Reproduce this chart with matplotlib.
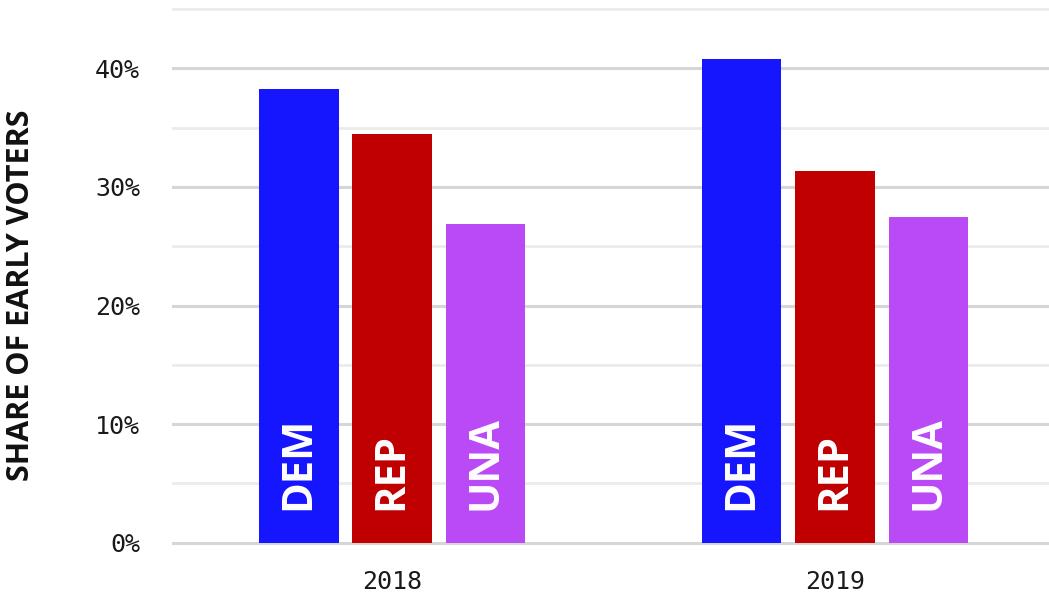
import matplotlib
matplotlib.use("Agg")
import matplotlib.pyplot as plt
import numpy as np

years = ["2018", "2019"]
parties = ["DEM", "REP", "UNA"]
dem = [38.25, 40.8]
rep = [34.5, 31.3]
una = [26.9, 27.5]
colors = ["#1515fe", "#c00000", "#b94af6"]
yticks = [0, 10, 20, 30, 40]
ytick_labels = ["0%", "10%", "20%", "30%", "40%"]

fig = plt.figure(figsize=(10.49, 5.99), dpi=100)
ylo, yhi = -0.3, 45.5
pxper = 11.86
top_px = 542.7 - yhi * pxper
h = (542.7 + 0.3 * pxper - top_px) / 599
bottom = (599 - (542.7 + 0.3 * pxper)) / 599
ax = fig.add_axes([172 / 1049, bottom, 1 - 172 / 1049, h])

x = np.arange(len(years))
step = 0.211
width = 0.18
series = [dem, rep, una]
for i, (vals, col, name) in enumerate(zip(series, colors, parties)):
    xs = x + (i - 1) * step
    ax.bar(xs, vals, width=width, color=col, zorder=3)
    for xi in xs:
        ax.text(xi, 2.75, name, rotation=90, ha="center", va="bottom",
                color="white", fontsize=30, fontweight="bold",
                family=["Open Sans", "DejaVu Sans"], zorder=4)

ax.set_xlim(-0.497, 1.483)
ax.set_ylim(ylo, yhi)

for v in np.arange(5, 50, 10):
    ax.axhline(v, color="#ebebeb", lw=2, zorder=1)
for v in yticks:
    ax.axhline(v, color="#d6d6d6", lw=2.2, zorder=1)

ax.set_yticks(yticks)
ax.set_yticklabels(ytick_labels, family="DejaVu Sans Mono", fontsize=18, color="#1a1a1a")
ax.set_xticks(x)
ax.set_xticklabels(years, family="DejaVu Sans Mono", fontsize=18, color="#1a1a1a")
ax.tick_params(axis="y", length=0, pad=23)
ax.tick_params(axis="x", length=0, pad=17)
for s in ax.spines.values():
    s.set_visible(False)

fig.text(21 / 1049, (599 - 295) / 599, "SHARE OF EARLY VOTERS", rotation=90,
         ha="center", va="center", fontsize=22, fontweight="bold",
         family=["Open Sans", "DejaVu Sans"], color="#111111")

fig.savefig("out.png", dpi=100, facecolor="white")
